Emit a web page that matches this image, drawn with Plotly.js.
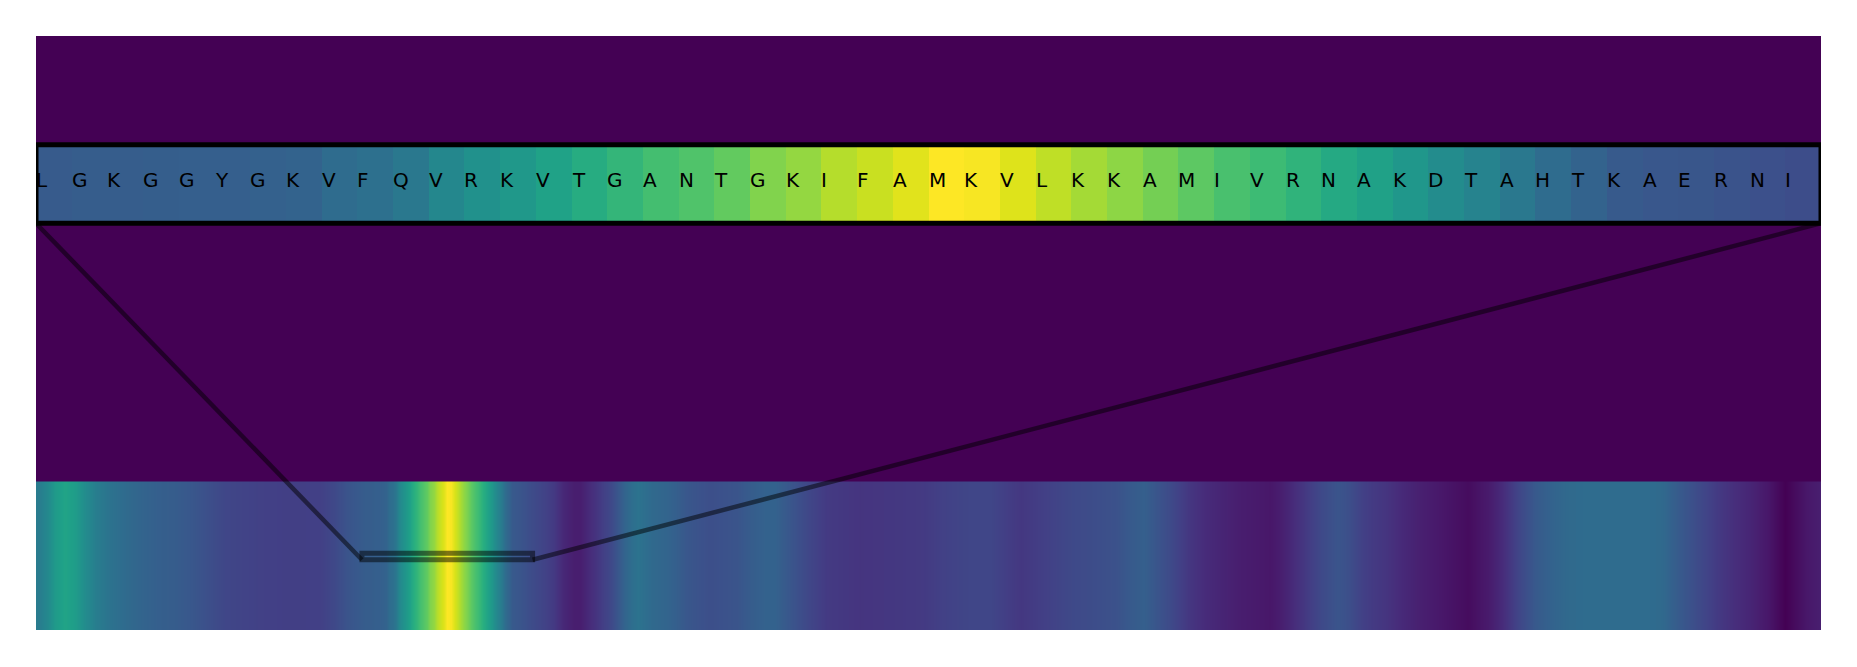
<!DOCTYPE html>
<html>
<head>
<meta charset="utf-8">
<script src="https://cdn.plot.ly/plotly-3.0.1.min.js"></script>
<style>html,body{margin:0;padding:0;background:#fff;}#chart{width:1857px;height:667px;}</style>
</head>
<body>
<div id="chart"></div>
<script>
// ---- data ----
const sequenceLength = 523;
const zoomStart = 95;
const zoomLetters = ["L","G","K","G","G","Y","G","K","V","F",
                     "Q","V","R","K","V","T","G","A","N","T",
                     "G","K","I","F","A","M","K","V","L","K",
                     "K","A","M","I","V","R","N","A","K","D",
                     "T","A","H","T","K","A","E","R","N","I"];
const zoomValues = [0.285,0.29,0.29,0.295,0.30,0.30,0.305,0.315,0.35,0.37,
                    0.40,0.46,0.50,0.53,0.575,0.62,0.66,0.70,0.725,0.76,
                    0.81,0.84,0.89,0.92,0.955,1.0,0.99,0.95,0.905,0.865,
                    0.83,0.79,0.75,0.71,0.685,0.65,0.605,0.57,0.525,0.48,
                    0.445,0.40,0.35,0.315,0.28,0.27,0.265,0.255,0.245,0.235];
// residues sampled outside the zoomed window (read from the full-length strip)
const profileResidues = [0,3,5,8,11,14,17,21,25,30,35,40,45,50,55,60,66,72,78,83,87,91,
  148,151,154,157,159,161,163,166,168,170,172,174,176,178,180,184,187,190,194,197,201,205,209,213,216,219,222,226,231,236,241,246,251,256,260,265,269,274,279,284,288,293,298,303,308,312,316,320,324,328,332,337,342,347,352,357,361,364,367,371,376,381,384,388,391,395,399,404,409,414,419,422,425,429,434,439,443,448,453,458,463,468,472,476,480,483,488,492,497,502,507,512,515,518,522];
const profileValues = [0.41,0.47,0.54,0.58,0.55,0.48,0.42,0.38,0.35,0.32,0.30,0.29,0.27,0.24,0.21,0.20,0.19,0.185,0.185,0.19,0.22,0.26,
  0.20,0.17,0.11,0.08,0.08,0.11,0.14,0.19,0.22,0.27,0.32,0.36,0.38,0.36,0.34,0.32,0.30,0.27,0.25,0.24,0.25,0.26,0.29,0.31,0.31,0.28,0.25,0.21,0.17,0.16,0.15,0.155,0.16,0.165,0.17,0.19,0.20,0.21,0.21,0.18,0.16,0.18,0.20,0.22,0.23,0.24,0.25,0.28,0.30,0.26,0.22,0.16,0.12,0.10,0.08,0.07,0.06,0.08,0.11,0.16,0.22,0.26,0.24,0.19,0.17,0.15,0.12,0.09,0.07,0.05,0.03,0.05,0.07,0.12,0.21,0.28,0.31,0.34,0.35,0.35,0.35,0.35,0.35,0.34,0.29,0.26,0.21,0.17,0.13,0.10,0.06,0.0,0.03,0.06,0.08];

// ---- layout constants ----
const Y_MAX = 4;
const stripY = [2.739, 3.268];
const boxY = [0.473, 0.516];
const xRange = [-0.5, sequenceLength - 0.5];

// merge samples
const pts = [];
profileResidues.forEach((r, i) => pts.push([r, profileValues[i]]));
zoomValues.forEach((v, i) => pts.push([zoomStart + i, v]));
pts.sort((a, b) => a[0] - b[0]);
const fullX = pts.map(p => p[0]);
const fullZ = pts.map(p => p[1]);

const viridis = 'Viridis';

const fullTrace = {
  type: 'heatmap', xaxis: 'x', yaxis: 'y',
  x: fullX, y: [0.25, 0.75], z: [fullZ, fullZ],
  zmin: 0, zmax: 1, colorscale: viridis, showscale: false,
  zsmooth: 'best', hoverinfo: 'skip'
};
const zoomEdges = zoomValues.map((v, i) => i).concat([zoomValues.length]);
const zoomTrace = {
  type: 'heatmap', xaxis: 'x2', yaxis: 'y',
  x: zoomEdges, y: stripY, z: [zoomValues],
  zmin: 0, zmax: 1, colorscale: viridis, showscale: false,
  zsmooth: false, hoverinfo: 'skip'
};

const annotations = zoomLetters.map((ch, i) => ({
  xref: 'x2', yref: 'y', x: i, y: (stripY[0] + stripY[1]) / 2,
  xanchor: 'left', yanchor: 'middle', xshift: -2, yshift: 4,
  text: ch, showarrow: false,
  font: {family: 'DejaVu Sans', size: 20, color: '#000'}
}));

const zoomEnd = zoomStart + zoomValues.length;
const connector = {color: 'rgba(0,0,0,0.5)', width: 4.5};
const shapes = [
  {type: 'rect', xref: 'x', yref: 'y', x0: zoomStart, x1: zoomEnd, y0: boxY[0], y1: boxY[1],
   line: {color: 'rgba(0,0,0,0.5)', width: 5}, fillcolor: 'rgba(0,0,0,0)'},
  {type: 'line', xref: 'x', yref: 'y', x0: zoomStart, y0: boxY[0], x1: xRange[0], y1: stripY[0], line: connector},
  {type: 'line', xref: 'x', yref: 'y', x0: zoomEnd, y0: boxY[0], x1: xRange[1], y1: stripY[0], line: connector},
  {type: 'rect', xref: 'x2', yref: 'y', x0: 0, x1: zoomValues.length, y0: stripY[0], y1: stripY[1],
   line: {color: '#000', width: 5}, fillcolor: 'rgba(0,0,0,0)'}
];

const hidden = {visible: false, showgrid: false, zeroline: false, fixedrange: true};
const layout = {
  width: 1857, height: 667,
  margin: {l: 36, r: 36, t: 36, b: 37, pad: 0},
  paper_bgcolor: '#ffffff', plot_bgcolor: '#440154',
  showlegend: false,
  xaxis: Object.assign({range: xRange, domain: [0, 1]}, hidden),
  xaxis2: Object.assign({range: [0, zoomValues.length], overlaying: 'x', anchor: 'y'}, hidden),
  yaxis: Object.assign({range: [0, Y_MAX], domain: [0, 1]}, hidden),
  shapes: shapes,
  annotations: annotations
};

Plotly.newPlot('chart', [fullTrace, zoomTrace], layout, {staticPlot: true, displayModeBar: false});
</script>
</body>
</html>
